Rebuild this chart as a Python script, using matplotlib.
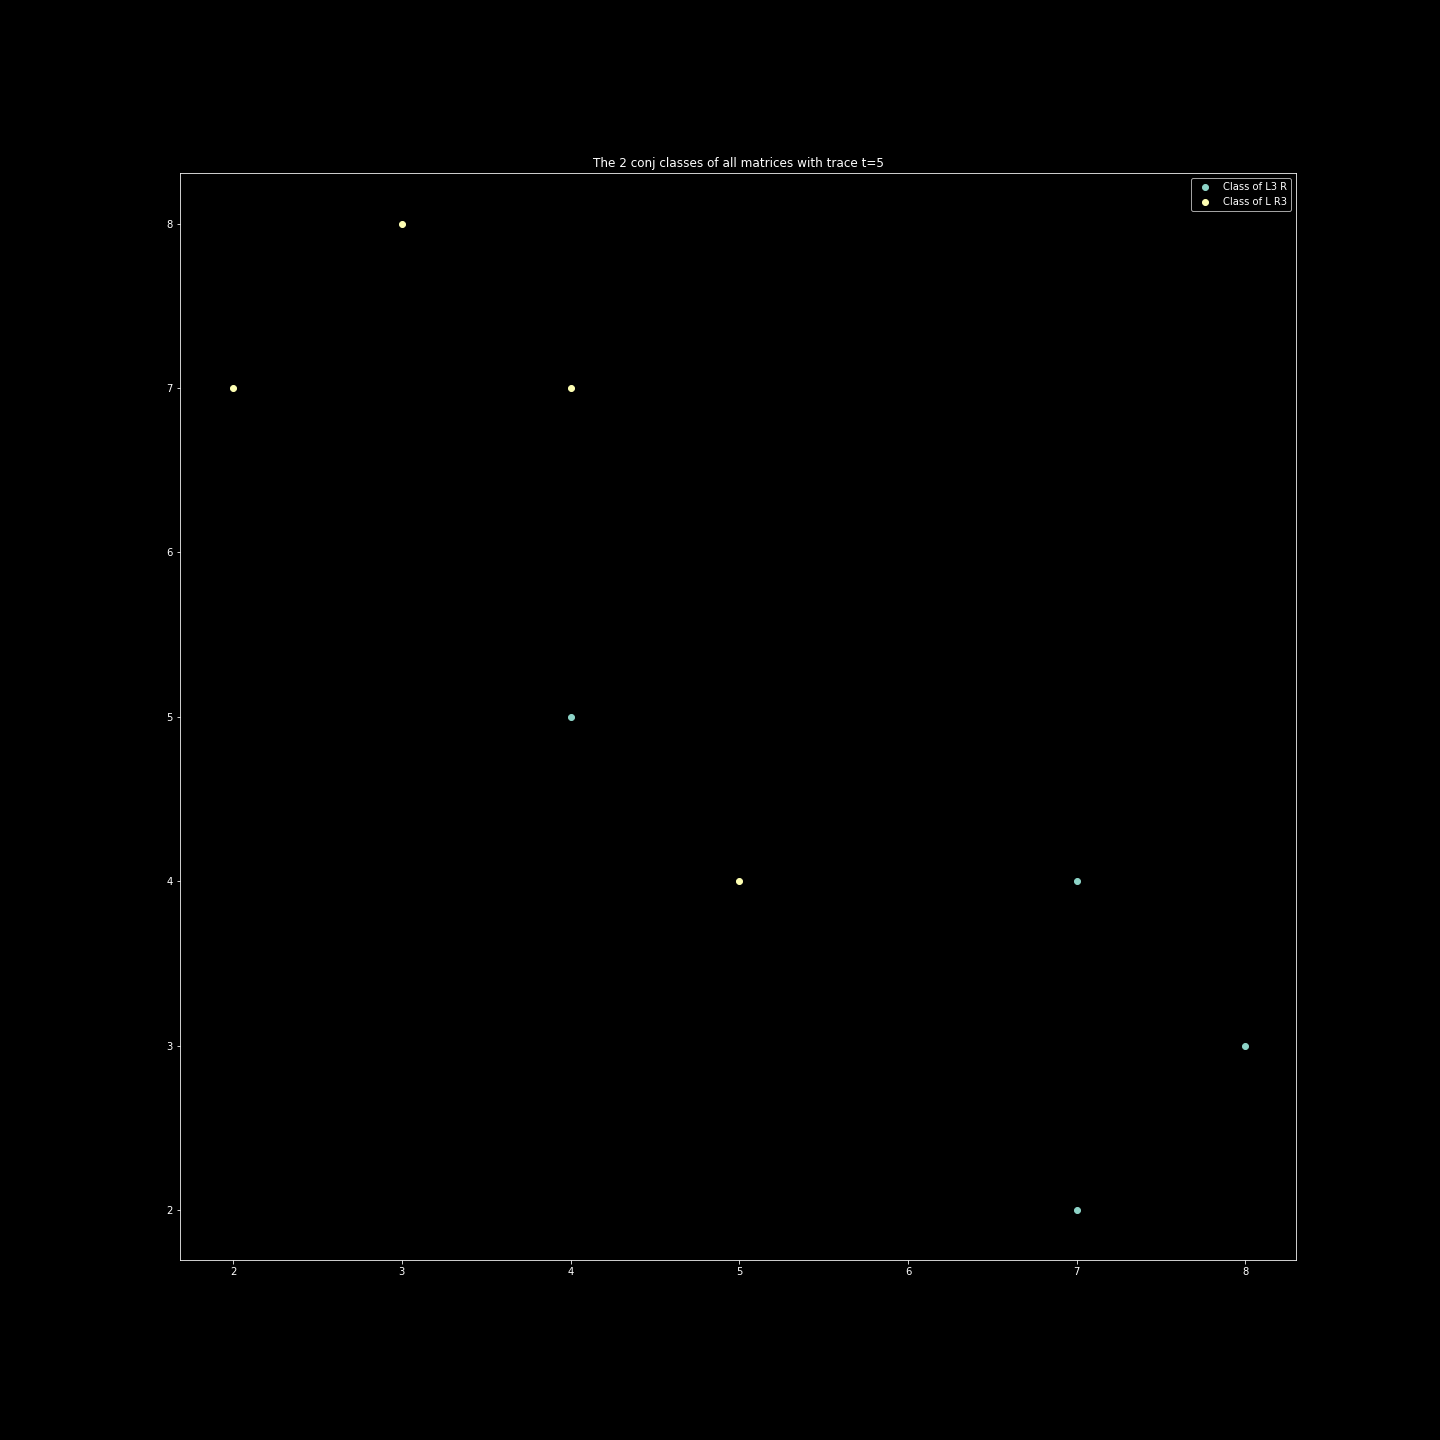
import matplotlib
matplotlib.use('Agg')
import matplotlib.pyplot as plt

# class of L^3 R
l3r_x = [4, 7, 8, 7]
l3r_y = [5, 4, 3, 2]

# class of L R^3
lr3_x = [2, 3, 4, 5]
lr3_y = [7, 8, 7, 4]

plt.style.use('dark_background')
fig, ax = plt.subplots(figsize=(20, 20), dpi=72)
fig.subplots_adjust(left=0.125, right=0.9, bottom=0.125, top=0.88)

ax.scatter(l3r_x, l3r_y, label='Class of L3 R')
ax.scatter(lr3_x, lr3_y, label='Class of L R3')

ax.set_xlim(1.685, 8.3)
ax.set_ylim(1.695, 8.31)
ax.set_title('The 2 conj classes of all matrices with trace t=5')
ax.legend(loc='upper right')

plt.savefig('out.png', dpi=72)
